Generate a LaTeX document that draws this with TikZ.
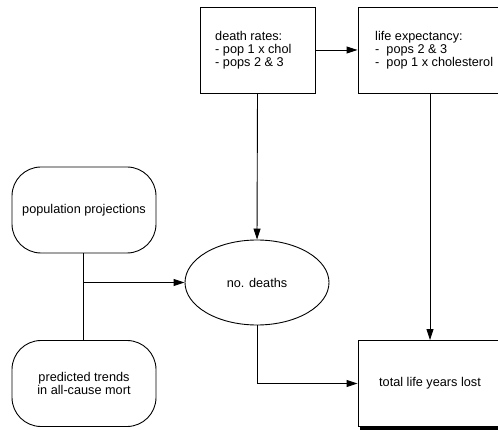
\documentclass[tikz,border=0pt]{standalone}
\usepackage{fontspec}
\setmainfont{Liberation Sans}
\usetikzlibrary{arrows.meta,shapes.geometric}
\begin{document}
\begin{tikzpicture}[x=1pt,y=-1pt,
  every node/.style={font=\fontsize{12.7}{13.2}\selectfont, inner sep=0pt},
  sqbox/.style={draw, line width=0.9pt, minimum width=#1, minimum height=86pt},
  rbox/.style={draw, line width=0.9pt, rounded corners=29pt, minimum width=144pt, minimum height=86pt, align=center},
  ell/.style={draw, ellipse, line width=0.9pt, minimum width=144pt, minimum height=85pt},
  conn/.style={line width=0.9pt},
  arr/.style={conn, -{Triangle[length=11pt,width=7pt]}}]
\useasboundingbox (0,0) rectangle (498,430);
\clip (0,0) rectangle (498,430);
\node[sqbox=115pt] (dr) at (257.5,50) {};
\node[anchor=west, align=left] (drt) at (215,50) {death rates:\\- pop 1 x chol\\- pops 2 \& 3};
\node[sqbox=144pt] (le) at (430,50) {};
\node[anchor=west, align=left] (let) at (375,50) {life expectancy:\\-~ pops 2 \& 3\\-~ pop 1 x cholesterol};
\node[rbox] (pp) at (84,210) {population projections};
\node[rbox] (pt) at (84,383.5) {predicted trends\\in all-cause mort};
\node[ell] (nd) at (257,282.5) {no. deaths};
\fill (360,342) rectangle (504,429.5);
\node[sqbox=144pt, fill=white] (tl) at (430,383.5) {total life years lost};
\coordinate (j) at (83,282.5);
\draw[arr] (dr.east) -- (le.west);
\draw[arr] (dr.south) -- (nd.north);
\draw[arr] (le.south) -- (tl.north);
\draw[conn] (pp.south -| j) -- (pt.north -| j);
\draw[arr] (j) -- (nd.west);
\draw[arr] (nd.south) |- (tl.west);
\end{tikzpicture}
\end{document}
